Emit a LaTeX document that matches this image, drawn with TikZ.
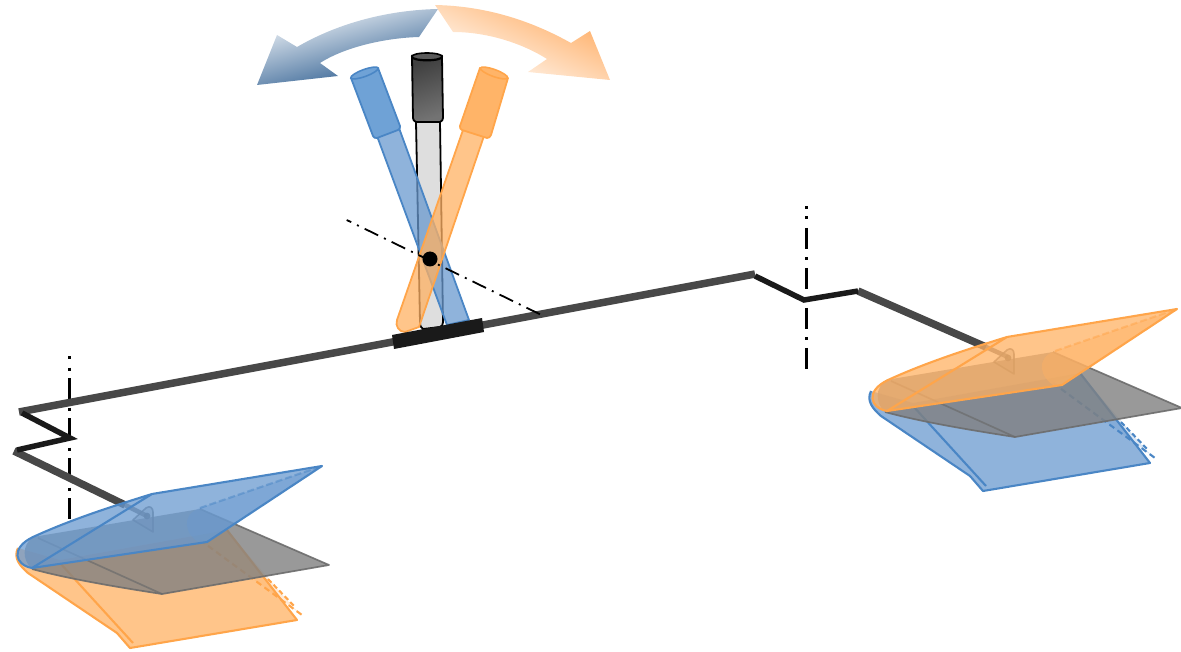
\documentclass[tikz,border=0pt]{standalone}
\usetikzlibrary{calc}
\definecolor{bluefill}{HTML}{6999CF}
\definecolor{blueline}{HTML}{4A86C5}
\definecolor{bluesolid}{HTML}{6FA2D6}
\definecolor{orangefill}{HTML}{FFB163}
\definecolor{orangeline}{HTML}{FFA54A}
\definecolor{orangesolid}{HTML}{FFB468}
\definecolor{armgray}{HTML}{484848}
\definecolor{zigblack}{HTML}{1A1A1A}
\definecolor{arrowbluetop}{HTML}{F8FAFC}
\definecolor{arrowbluebot}{HTML}{1F5288}
\definecolor{arroworangetop}{HTML}{FFAC62}
\tikzset{
  armline/.style={draw=armgray,line width=7.5pt,line join=round},
  armtail/.style={draw=armgray,line width=4.5pt,draw opacity=.7},
  zigline/.style={draw=zigblack,line width=5.5pt,line join=miter},
  axisline/.style={draw=black,line width=2.6pt,dash pattern=on 21pt off 8.5pt on 3pt off 7.5pt},
  axisdot/.style={draw=black,line width=2.6pt},
  diagline/.style={draw=black,line width=1.8pt,dash pattern=on 15pt off 6.5pt on 2pt off 6.5pt,dash phase=10pt},
}
% #1 = lower wing colour, #2 = upper wing colour, #3 = bracket shift, #4 = upper wing shift
\newcommand{\wingset}[4]{%
  % lower wing
  \path[fill=#1fill,fill opacity=.75]
    (18,548) .. controls (13,558) and (20,566) .. (28,573) -- (117,633) -- (130,648) -- (297,620)
    -- (227,530) -- (60,560) -- cycle;
  \path[fill=#1fill,fill opacity=.25] (200,540) -- (227,530) -- (293,607) -- (302,615) -- cycle;
  \draw[draw=#1line,line width=2.1pt,line join=round]
    (18,548) .. controls (13,558) and (20,566) .. (28,573) -- (117,633) -- (130,648) -- (297,620) -- (227,530);
  \draw[draw=#1line,line width=2.1pt] (60,563) -- (133,643);
  \draw[draw=#1line,line width=2.1pt,dash pattern=on 6pt off 4pt] (200,540) -- (302,615);
  \draw[draw=#1line,line width=2.1pt,dash pattern=on 5pt off 3pt] (268,579) -- (295,607);
  % fixed plate
  \path[fill=gray,fill opacity=.8]
    (33,537) -- (200,509) -- (329,565) -- (162,594)
    .. controls (110,586) and (65,578) .. (32,569) .. controls (22,560) and (22,545) .. cycle;
  \draw[draw=gray!85!black,line width=1.7pt,line join=round,draw opacity=.9]
    (200,509) -- (329,565) -- (162,594) .. controls (110,586) and (65,578) .. (32,569);
  \draw[draw=gray!85!black,line width=1.7pt,opacity=.7] (38,538) -- (162,594);
  % pivot bracket
  \begin{scope}[shift={#3}]
  \draw[fill=gray,fill opacity=.35,draw=gray!85!black,draw opacity=.8,line width=1.6pt,line join=round]
    (133,520) -- (146,508) .. controls (150,505) and (153,508) .. (153,512) -- (153,532) -- cycle;
  \fill[gray!80!black,opacity=.9] (147,516) circle (3.4pt);
  \end{scope}
  % upper wing
  \begin{scope}[shift={#4}]
  \path[fill=#2fill,fill opacity=.75]
    (152,494) -- (322,466) -- (207,542) -- (32,568)
    .. controls (15,565) and (10,548) .. (33,537)
    .. controls (70,520) and (110,507) .. (152,494) -- cycle;
  \path[fill=#2fill,fill opacity=.45]
    (200,508) -- (322,466) -- (207,542) -- (200,543)
    .. controls (185,535) and (180,515) .. (200,508) -- cycle;
  \draw[draw=#2line,line width=2.1pt,line join=round]
    (152,494) -- (322,466) -- (207,542) -- (32,568)
    .. controls (15,565) and (10,548) .. (33,537)
    .. controls (70,520) and (110,507) .. (152,494) -- (32,568);
  \draw[draw=#2line,line width=2.1pt,opacity=.5,dash pattern=on 7pt off 3pt] (200,508) -- (322,466);
  \end{scope}
}
\begin{document}
\begin{tikzpicture}[x=1pt,y=-1pt]
\useasboundingbox (0,0) rectangle (1181,652);
% axes behind the arm
\draw[axisdot] (69.3,356.5) -- (69.3,359.5) (69.3,367.5) -- (69.3,370.5);
\draw[axisline] (69.3,378) -- (69.3,520);
\draw[axisdot] (806.7,206.5) -- (806.7,209.5) (806.7,216.5) -- (806.7,219.5);
\draw[axisline] (806.7,228) -- (806.7,370);
% arm
\draw[armline] (19,412) -- (755,274);
\draw[armline] (858,291) -- (986,347);
\draw[armtail] (986,347) -- (1008,357);
\draw[armline] (14,451) -- (125,505);
\draw[armtail] (125,505) -- (147,516);
\draw[zigline] (755,276) -- (804,300) -- (858,291);
\draw[zigline] (22,413) -- (70,438) -- (17,450);
% wings
\wingset{orange}{blue}{(0,0)}{(0,0)}
\begin{scope}[shift={(853,-157)}]
\wingset{blue}{orange}{(8,-1)}{(2,0)}
\end{scope}
% centre stick
\draw[fill=black!13,draw=black,line width=1.8pt,line join=round]
  (416,122) -- (420,322) .. controls (420,326) and (421,328) .. (423,329) -- (440,327)
  .. controls (442,326) and (443,325) .. (443,322) -- (440,122) -- cycle;
\draw[draw=black,line width=1.8pt,top color=black!75,bottom color=black!55,shading angle=20]
  (412,57) -- (413,118) .. controls (413,120) and (414,121) .. (416,122) -- (440,122)
  .. controls (442,121) and (443,120) .. (443,118) -- (442,57)
  arc[start angle=0,end angle=180,x radius=15,y radius=3.5] -- cycle;
\draw[fill=black!65,draw=black,line width=1.6pt] (427,56.5) ellipse[x radius=15,y radius=3.5];
% blue stick
\draw[fill=bluefill,fill opacity=.75,draw=blueline,line width=1.8pt,line join=round]
  (377,136) -- (399,128) -- (469,320) -- (447,325) -- cycle;
\draw[fill=bluesolid,draw=blueline,line width=1.8pt,line join=round]
  (351,78) -- (373,136) .. controls (374,138) and (375,138) .. (377,138) -- (398,130)
  .. controls (400,129) and (400,128) .. (400,126) -- (378,68) -- cycle;
\draw[fill=bluesolid,draw=blueline,line width=1.6pt,rotate around={20:(364.5,73)}] (364.5,73) ellipse[x radius=14.5,y radius=3.5];
% orange stick
\draw[fill=orangefill,fill opacity=.75,draw=orangeline,line width=1.8pt,line join=round]
  (463,130) -- (486,130) -- (419,327) -- (405,332)
  .. controls (399,332) and (395,326) .. (397,320) -- cycle;
\draw[fill=orangesolid,draw=orangeline,line width=1.8pt,line join=round]
  (480,68) -- (460,126) .. controls (460,128) and (460,129) .. (462,130) -- (487,138)
  .. controls (489,138) and (490,137) .. (491,135) -- (508,78) -- cycle;
\draw[fill=orangesolid,draw=orangeline,line width=1.6pt,rotate around={-20:(494,73)}] (494,73) ellipse[x radius=14.5,y radius=3.5];
% pivot and its axis
\draw[diagline] (346.7,220) -- (540,314.3);
\fill[black] (430,259) circle (7.5pt);
% clamp
\fill[zigblack] (392,335) -- (482,318) -- (484,332) -- (394,349) -- cycle;
% motion arrows
\shade[top color=arrowbluetop,bottom color=arrowbluebot,shading angle=15]
  (257,85) -- (277,35) -- (297,47) .. controls (340,22) and (390,10) .. (438,9)
  -- (419,37) .. controls (385,38) and (345,47) .. (320,63) -- (338,76) -- cycle;
\shade[top color=arroworangetop,bottom color=white,shading angle=-25]
  (435,5) .. controls (485,6) and (530,20) .. (571,43) -- (590,31) -- (610,80) -- (528,72)
  -- (547,59) .. controls (520,42) and (485,32) .. (453,32) -- cycle;
\end{tikzpicture}
\end{document}
